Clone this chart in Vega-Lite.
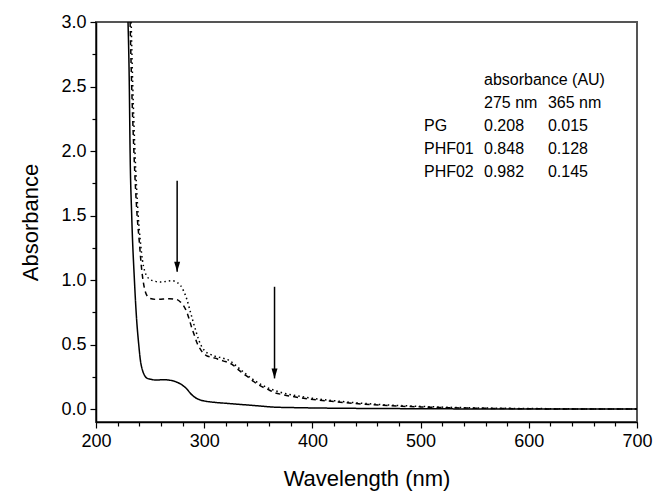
{
  "$schema": "https://vega.github.io/schema/vega-lite/v6.json",
  "width": 541,
  "height": 400,
  "autosize": {"type": "none"},
  "padding": {"left": 96, "top": 22, "right": 18, "bottom": 69},
  "background": "white",
  "config": {
    "font": "Liberation Sans",
    "view": {"stroke": "#555555", "strokeWidth": 2},
    "axis": {
      "domainColor": "black",
      "domainWidth": 1.5,
      "tickColor": "black",
      "tickWidth": 1.2,
      "grid": false,
      "labelFont": "Liberation Sans",
      "labelColor": "black",
      "labelFontSize": 18,
      "labelOverlap": false,
      "labelFlush": false,
      "titleFont": "Liberation Sans",
      "titleFontWeight": "normal",
      "titleColor": "black",
      "titleFontSize": 22
    }
  },
  "resolve": {"axis": {"x": "independent", "y": "independent"}},
  "datasets": {
    "spectra": [
      {"wl": 229.6, "abs": 3.0, "s": "PG"},
      {"wl": 230.8, "abs": 2.5, "s": "PG"},
      {"wl": 231.5, "abs": 2.0, "s": "PG"},
      {"wl": 233, "abs": 1.5, "s": "PG"},
      {"wl": 235.5, "abs": 1.0, "s": "PG"},
      {"wl": 237.5, "abs": 0.7, "s": "PG"},
      {"wl": 239.5, "abs": 0.5, "s": "PG"},
      {"wl": 241, "abs": 0.38, "s": "PG"},
      {"wl": 243, "abs": 0.3, "s": "PG"},
      {"wl": 245, "abs": 0.26, "s": "PG"},
      {"wl": 247, "abs": 0.24, "s": "PG"},
      {"wl": 250, "abs": 0.232, "s": "PG"},
      {"wl": 256, "abs": 0.225, "s": "PG"},
      {"wl": 262, "abs": 0.228, "s": "PG"},
      {"wl": 268, "abs": 0.224, "s": "PG"},
      {"wl": 272, "abs": 0.217, "s": "PG"},
      {"wl": 275, "abs": 0.208, "s": "PG"},
      {"wl": 278, "abs": 0.195, "s": "PG"},
      {"wl": 281, "abs": 0.178, "s": "PG"},
      {"wl": 284, "abs": 0.155, "s": "PG"},
      {"wl": 287, "abs": 0.125, "s": "PG"},
      {"wl": 290, "abs": 0.1, "s": "PG"},
      {"wl": 293, "abs": 0.083, "s": "PG"},
      {"wl": 296, "abs": 0.072, "s": "PG"},
      {"wl": 300, "abs": 0.063, "s": "PG"},
      {"wl": 310, "abs": 0.052, "s": "PG"},
      {"wl": 320, "abs": 0.045, "s": "PG"},
      {"wl": 335, "abs": 0.035, "s": "PG"},
      {"wl": 350, "abs": 0.025, "s": "PG"},
      {"wl": 358, "abs": 0.019, "s": "PG"},
      {"wl": 365, "abs": 0.015, "s": "PG"},
      {"wl": 380, "abs": 0.012, "s": "PG"},
      {"wl": 400, "abs": 0.009, "s": "PG"},
      {"wl": 450, "abs": 0.005, "s": "PG"},
      {"wl": 500, "abs": 0.003, "s": "PG"},
      {"wl": 550, "abs": 0.001, "s": "PG"},
      {"wl": 600, "abs": 0.0, "s": "PG"},
      {"wl": 700, "abs": 0.0, "s": "PG"},

      {"wl": 231.5, "abs": 3.0, "s": "PHF01"},
      {"wl": 233, "abs": 2.5, "s": "PHF01"},
      {"wl": 235, "abs": 2.0, "s": "PHF01"},
      {"wl": 238, "abs": 1.5, "s": "PHF01"},
      {"wl": 240, "abs": 1.3, "s": "PHF01"},
      {"wl": 242, "abs": 1.1, "s": "PHF01"},
      {"wl": 244, "abs": 0.97, "s": "PHF01"},
      {"wl": 246, "abs": 0.9, "s": "PHF01"},
      {"wl": 248, "abs": 0.87, "s": "PHF01"},
      {"wl": 250, "abs": 0.857, "s": "PHF01"},
      {"wl": 256, "abs": 0.85, "s": "PHF01"},
      {"wl": 262, "abs": 0.853, "s": "PHF01"},
      {"wl": 268, "abs": 0.856, "s": "PHF01"},
      {"wl": 272, "abs": 0.853, "s": "PHF01"},
      {"wl": 275, "abs": 0.848, "s": "PHF01"},
      {"wl": 278, "abs": 0.83, "s": "PHF01"},
      {"wl": 281, "abs": 0.8, "s": "PHF01"},
      {"wl": 284, "abs": 0.75, "s": "PHF01"},
      {"wl": 286, "abs": 0.7, "s": "PHF01"},
      {"wl": 288.5, "abs": 0.63, "s": "PHF01"},
      {"wl": 291, "abs": 0.57, "s": "PHF01"},
      {"wl": 293.5, "abs": 0.51, "s": "PHF01"},
      {"wl": 296, "abs": 0.47, "s": "PHF01"},
      {"wl": 299, "abs": 0.435, "s": "PHF01"},
      {"wl": 302, "abs": 0.415, "s": "PHF01"},
      {"wl": 306, "abs": 0.403, "s": "PHF01"},
      {"wl": 310, "abs": 0.395, "s": "PHF01"},
      {"wl": 314, "abs": 0.383, "s": "PHF01"},
      {"wl": 318, "abs": 0.372, "s": "PHF01"},
      {"wl": 322, "abs": 0.362, "s": "PHF01"},
      {"wl": 326, "abs": 0.345, "s": "PHF01"},
      {"wl": 331, "abs": 0.31, "s": "PHF01"},
      {"wl": 336, "abs": 0.275, "s": "PHF01"},
      {"wl": 341, "abs": 0.245, "s": "PHF01"},
      {"wl": 346, "abs": 0.212, "s": "PHF01"},
      {"wl": 350, "abs": 0.19, "s": "PHF01"},
      {"wl": 355, "abs": 0.167, "s": "PHF01"},
      {"wl": 360, "abs": 0.148, "s": "PHF01"},
      {"wl": 365, "abs": 0.128, "s": "PHF01"},
      {"wl": 372, "abs": 0.113, "s": "PHF01"},
      {"wl": 380, "abs": 0.1, "s": "PHF01"},
      {"wl": 395, "abs": 0.08, "s": "PHF01"},
      {"wl": 420, "abs": 0.058, "s": "PHF01"},
      {"wl": 445, "abs": 0.04, "s": "PHF01"},
      {"wl": 470, "abs": 0.027, "s": "PHF01"},
      {"wl": 500, "abs": 0.017, "s": "PHF01"},
      {"wl": 530, "abs": 0.01, "s": "PHF01"},
      {"wl": 570, "abs": 0.005, "s": "PHF01"},
      {"wl": 610, "abs": 0.002, "s": "PHF01"},
      {"wl": 650, "abs": 0.0, "s": "PHF01"},
      {"wl": 700, "abs": 0.0, "s": "PHF01"},

      {"wl": 232.5, "abs": 3.0, "s": "PHF02"},
      {"wl": 234, "abs": 2.5, "s": "PHF02"},
      {"wl": 236, "abs": 2.0, "s": "PHF02"},
      {"wl": 239, "abs": 1.5, "s": "PHF02"},
      {"wl": 241, "abs": 1.3, "s": "PHF02"},
      {"wl": 243, "abs": 1.15, "s": "PHF02"},
      {"wl": 245, "abs": 1.07, "s": "PHF02"},
      {"wl": 247, "abs": 1.03, "s": "PHF02"},
      {"wl": 250, "abs": 1.005, "s": "PHF02"},
      {"wl": 255, "abs": 0.99, "s": "PHF02"},
      {"wl": 260, "abs": 0.985, "s": "PHF02"},
      {"wl": 265, "abs": 0.99, "s": "PHF02"},
      {"wl": 270, "abs": 0.995, "s": "PHF02"},
      {"wl": 273, "abs": 0.99, "s": "PHF02"},
      {"wl": 275, "abs": 0.982, "s": "PHF02"},
      {"wl": 278, "abs": 0.96, "s": "PHF02"},
      {"wl": 281, "abs": 0.915, "s": "PHF02"},
      {"wl": 284, "abs": 0.85, "s": "PHF02"},
      {"wl": 287, "abs": 0.76, "s": "PHF02"},
      {"wl": 290, "abs": 0.67, "s": "PHF02"},
      {"wl": 292.5, "abs": 0.6, "s": "PHF02"},
      {"wl": 295, "abs": 0.535, "s": "PHF02"},
      {"wl": 298, "abs": 0.48, "s": "PHF02"},
      {"wl": 301, "abs": 0.447, "s": "PHF02"},
      {"wl": 305, "abs": 0.427, "s": "PHF02"},
      {"wl": 310, "abs": 0.41, "s": "PHF02"},
      {"wl": 315, "abs": 0.4, "s": "PHF02"},
      {"wl": 319, "abs": 0.39, "s": "PHF02"},
      {"wl": 323, "abs": 0.378, "s": "PHF02"},
      {"wl": 327, "abs": 0.355, "s": "PHF02"},
      {"wl": 331, "abs": 0.325, "s": "PHF02"},
      {"wl": 336, "abs": 0.29, "s": "PHF02"},
      {"wl": 341, "abs": 0.255, "s": "PHF02"},
      {"wl": 346, "abs": 0.225, "s": "PHF02"},
      {"wl": 350, "abs": 0.203, "s": "PHF02"},
      {"wl": 355, "abs": 0.18, "s": "PHF02"},
      {"wl": 360, "abs": 0.16, "s": "PHF02"},
      {"wl": 365, "abs": 0.145, "s": "PHF02"},
      {"wl": 372, "abs": 0.127, "s": "PHF02"},
      {"wl": 380, "abs": 0.112, "s": "PHF02"},
      {"wl": 395, "abs": 0.09, "s": "PHF02"},
      {"wl": 420, "abs": 0.065, "s": "PHF02"},
      {"wl": 445, "abs": 0.046, "s": "PHF02"},
      {"wl": 470, "abs": 0.032, "s": "PHF02"},
      {"wl": 500, "abs": 0.021, "s": "PHF02"},
      {"wl": 530, "abs": 0.013, "s": "PHF02"},
      {"wl": 570, "abs": 0.007, "s": "PHF02"},
      {"wl": 610, "abs": 0.004, "s": "PHF02"},
      {"wl": 640, "abs": 0.002, "s": "PHF02"},
      {"wl": 660, "abs": 0.0, "s": "PHF02"},
      {"wl": 700, "abs": 0.0, "s": "PHF02"}
    ],
    "arrows": [
      {"wl": 275, "top": 1.77, "tip": 1.064},
      {"wl": 365, "top": 0.948, "tip": 0.238}
    ],
    "table": [
      {"wl": 558.6, "abs": 2.55, "text": "absorbance (AU)"},
      {"wl": 558.6, "abs": 2.372, "text": "275 nm"},
      {"wl": 617.7, "abs": 2.372, "text": "365 nm"},
      {"wl": 503.1, "abs": 2.194, "text": "PG"},
      {"wl": 558.6, "abs": 2.194, "text": "0.208"},
      {"wl": 617.7, "abs": 2.194, "text": "0.015"},
      {"wl": 503.1, "abs": 2.016, "text": "PHF01"},
      {"wl": 558.6, "abs": 2.016, "text": "0.848"},
      {"wl": 617.7, "abs": 2.016, "text": "0.128"},
      {"wl": 503.1, "abs": 1.837, "text": "PHF02"},
      {"wl": 558.6, "abs": 1.837, "text": "0.982"},
      {"wl": 617.7, "abs": 1.837, "text": "0.145"}
    ]
  },
  "layer": [
    {
      "data": {"name": "spectra"},
      "mark": {"type": "line", "color": "black", "strokeWidth": 1.5, "interpolate": "monotone", "clip": true},
      "encoding": {
        "x": {
          "field": "wl", "type": "quantitative",
          "scale": {"domain": [200, 700], "nice": false, "zero": false},
          "axis": {
            "orient": "bottom",
            "title": "Wavelength (nm)",
            "values": [200, 300, 400, 500, 600, 700],
            "format": "d",
            "tickSize": 6,
            "labelPadding": 4,
            "titlePadding": 18
          }
        },
        "y": {
          "field": "abs", "type": "quantitative",
          "scale": {"domain": [-0.1, 3.0], "nice": false, "zero": false},
          "axis": {
            "orient": "left",
            "title": "Absorbance",
            "values": [0, 0.5, 1, 1.5, 2, 2.5, 3],
            "format": ".1f",
            "tickSize": 6,
            "labelPadding": 4,
            "titlePadding": 18
          }
        },
        "detail": {"field": "s"},
        "strokeDash": {
          "field": "s", "type": "nominal",
          "scale": {"domain": ["PG", "PHF01", "PHF02"], "range": [[1, 0], [5, 4], [1.5, 3]]},
          "legend": null
        }
      }
    },
    {
      "data": {"name": "arrows"},
      "mark": {"type": "rule", "color": "black", "strokeWidth": 1.5},
      "encoding": {
        "x": {
          "field": "wl", "type": "quantitative",
          "axis": {
            "orient": "bottom",
            "title": null,
            "labels": false,
            "domain": false,
            "tickSize": 4,
            "values": [220, 240, 260, 280, 320, 340, 360, 380, 420, 440, 460, 480, 520, 540, 560, 580, 620, 640, 660, 680]
          }
        },
        "y": {
          "field": "top", "type": "quantitative",
          "axis": {
            "orient": "left",
            "title": null,
            "labels": false,
            "domain": false,
            "tickSize": 4,
            "values": [0.25, 0.75, 1.25, 1.75, 2.25, 2.75]
          }
        },
        "y2": {"field": "tip"}
      }
    },
    {
      "data": {"name": "arrows"},
      "mark": {"type": "point", "shape": "M-0.6,-2L0.6,-2L0,0Z", "filled": true, "color": "black", "opacity": 1, "size": 100},
      "encoding": {
        "x": {"field": "wl", "type": "quantitative", "axis": null},
        "y": {"field": "tip", "type": "quantitative", "axis": null}
      }
    },
    {
      "data": {"name": "table"},
      "mark": {"type": "text", "align": "left", "baseline": "middle", "fontSize": 16, "font": "Liberation Sans", "color": "black"},
      "encoding": {
        "x": {"field": "wl", "type": "quantitative", "axis": null},
        "y": {"field": "abs", "type": "quantitative", "axis": null},
        "text": {"field": "text"}
      }
    }
  ]
}
